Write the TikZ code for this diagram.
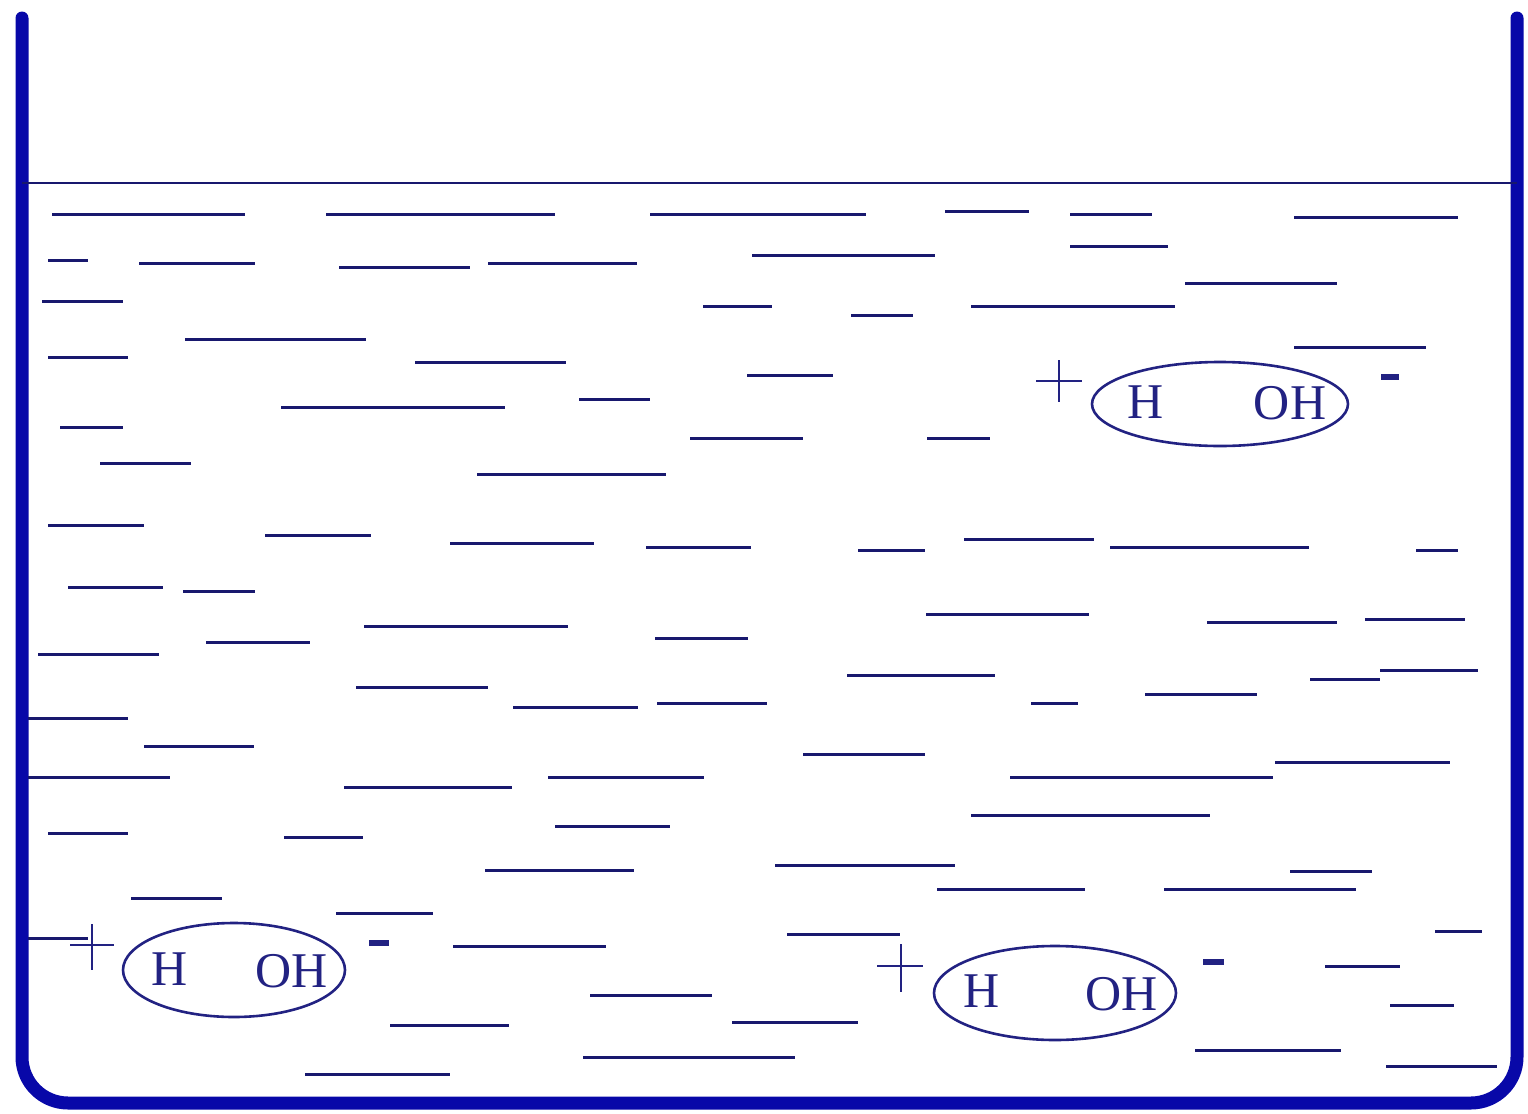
\documentclass[tikz,border=0pt]{standalone}
\usepackage{fontspec}
\setmainfont{Liberation Serif}
\definecolor{wall}{RGB}{8,8,168}
\definecolor{ink}{RGB}{24,24,110}
\definecolor{mol}{RGB}{34,34,130}
\tikzset{
  wallline/.style={draw=wall, line width=6.5pt, line cap=round, line join=round},
  dashseg/.style={draw=ink, line width=1.5pt},
  surface/.style={draw=ink, line width=1.1pt},
  molring/.style={draw=mol, line width=1.3pt},
  atom/.style={text=mol, font=\fontsize{25pt}{25pt}\selectfont, inner sep=0pt},
  plussign/.style={draw=mol, line width=1pt},
  minussign/.style={draw=mol, line width=3pt},
}
\begin{document}
\begin{tikzpicture}[x=0.5pt, y=-0.5pt]
\useasboundingbox (0,0) rectangle (1528,1114);
% beaker
\draw[wallline, rounded corners=23pt] (22,18) -- (22,1103) -- (1517,1103) -- (1517,18);
% water surface
\draw[surface] (22,183) -- (1517,183);
% water dashes
\foreach \a/\b/\y in {
 52/245/214, 326/555/214, 650/866/214, 945/1029/211, 1070/1152/214, 1294/1458/217,
 48/88/260, 139/255/263, 339/470/267, 488/637/263, 752/935/255, 1070/1168/246,
 1185/1337/283,
 42/123/301, 703/772/306, 851/913/315, 971/1175/306,
 185/366/339, 48/128/357, 415/566/362, 1294/1426/347,
 747/833/375, 579/650/399, 281/505/407, 60/123/427, 690/803/438, 927/990/438,
 100/191/463, 477/666/474,
 48/144/525, 265/371/535, 450/594/543, 646/751/547, 858/925/550, 964/1094/539, 1110/1309/547, 1416/1458/550,
 68/163/587, 183/255/591,
 926/1089/614, 1207/1337/622, 1365/1465/619,
 206/310/642, 364/568/626, 655/748/638, 38/159/654,
 847/995/675, 1310/1380/679, 1380/1478/670,
 356/488/687, 513/638/707, 657/767/703, 1031/1078/703, 1145/1257/694,
 28/128/718, 144/254/746,
 803/925/754, 1275/1450/762,
 28/170/777, 344/512/787, 548/704/777, 1010/1273/777,
 971/1210/815,
 48/128/833, 284/363/837, 555/670/826,
 485/634/870, 775/955/865, 1290/1372/871,
 131/222/898, 937/1085/889, 1164/1356/889,
 336/433/913,
 28/88/938,
 787/900/934, 453/606/946, 1435/1482/931,
 1325/1400/966,
 590/712/995, 1390/1454/1005,
 390/509/1025, 732/858/1022,
 583/795/1057, 1195/1341/1050, 1386/1497/1066,
 305/450/1074}
 \draw[dashseg] (\a,\y) -- (\b,\y);
% molecule 1 (upper right)
\draw[molring] (1220,404) ellipse[x radius=128, y radius=42];
\node[atom] (h1) at (1146,402) {H};
\node[atom] (oh1) at (1290,403) {OH};
\draw[plussign] (1036,381) -- (1082,381) (1059,360) -- (1059,402);
\draw[minussign] (1381,377) -- (1399,377);
% molecule 2 (lower left)
\draw[molring] (234,970) ellipse[x radius=111, y radius=47];
\node[atom] (h2) at (170,969) {H};
\node[atom] (oh2) at (292,971) {OH};
\draw[plussign] (70,945) -- (114,945) (92,924) -- (92,970);
\draw[minussign] (369,943) -- (389,943);
% molecule 3 (lower middle)
\draw[molring] (1055,993) ellipse[x radius=121, y radius=47];
\node[atom] (h3) at (982,991) {H};
\node[atom] (oh3) at (1122,994) {OH};
\draw[plussign] (877,966) -- (923,966) (901,944) -- (901,992);
\draw[minussign] (1203,962) -- (1224,962);
\end{tikzpicture}
\end{document}
